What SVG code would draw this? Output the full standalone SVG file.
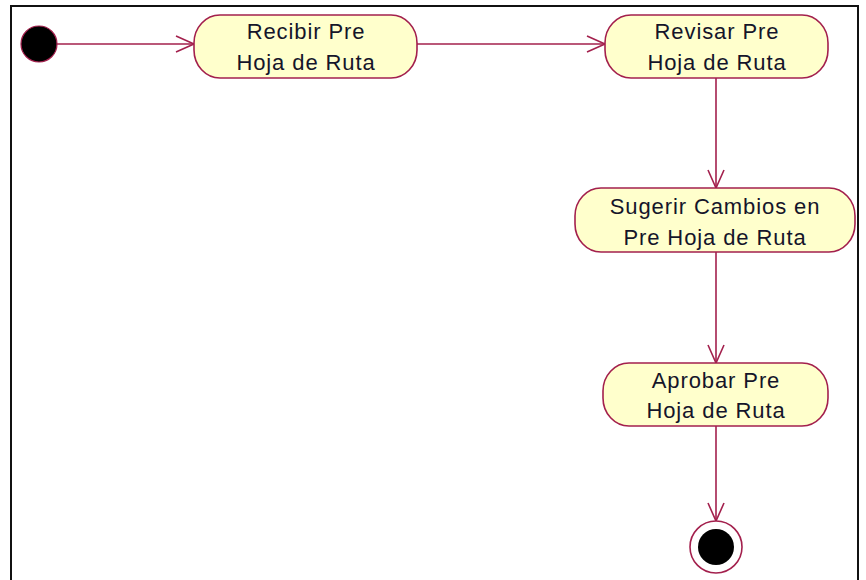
<svg xmlns="http://www.w3.org/2000/svg" width="866" height="580" viewBox="0 0 866 580">
<style>
.act{fill:#ffffcc;stroke:#a3204d;stroke-width:1.6}
.lbl{font-family:"Liberation Sans",Arial,sans-serif;font-size:22px;letter-spacing:0.9px;fill:#15152a;text-anchor:middle}
.edge{stroke:#a3204d;stroke-width:1.6;fill:none}
</style>
<defs>
<marker id="arr" markerUnits="userSpaceOnUse" markerWidth="22" markerHeight="22" viewBox="0 0 22 22" refX="19" refY="11" orient="auto">
<path d="M1,3 L19,11 L1,19" fill="none" stroke="#a3204d" stroke-width="1.6"/>
</marker>
</defs>
<rect width="866" height="580" fill="#ffffff"/>
<rect x="11" y="6" width="847" height="620" fill="none" stroke="#111" stroke-width="2"/>
<g id="connectors">
<line class="edge" x1="57" y1="44" x2="194" y2="44" marker-end="url(#arr)"/>
<line class="edge" x1="417" y1="44" x2="605" y2="44" marker-end="url(#arr)"/>
<line class="edge" x1="716" y1="78" x2="716" y2="188" marker-end="url(#arr)"/>
<line class="edge" x1="716" y1="252" x2="716" y2="363" marker-end="url(#arr)"/>
<line class="edge" x1="716" y1="426" x2="716" y2="521" marker-end="url(#arr)"/>
</g>
<g id="start">
<circle cx="39" cy="44" r="18" fill="#000" stroke="#a3204d" stroke-width="1.2"/>
</g>
<g id="recibir">
<rect class="act" x="194" y="15" width="223" height="63" rx="26" ry="28"/>
<text class="lbl" x="306" y="39">Recibir Pre</text>
<text class="lbl" x="306" y="70">Hoja de Ruta</text>
</g>
<g id="revisar">
<rect class="act" x="605" y="15" width="223" height="63" rx="26" ry="28"/>
<text class="lbl" x="717" y="39">Revisar Pre</text>
<text class="lbl" x="717" y="70">Hoja de Ruta</text>
</g>
<g id="sugerir">
<rect class="act" x="575" y="188" width="280" height="64" rx="26" ry="28"/>
<text class="lbl" x="715" y="214">Sugerir Cambios en</text>
<text class="lbl" x="715" y="245">Pre Hoja de Ruta</text>
</g>
<g id="aprobar">
<rect class="act" x="603" y="363" width="225" height="63" rx="26" ry="28"/>
<text class="lbl" x="716" y="388">Aprobar Pre</text>
<text class="lbl" x="716" y="418">Hoja de Ruta</text>
</g>
<g id="end">
<circle cx="716" cy="547" r="26" fill="#fff" stroke="#a3204d" stroke-width="1.6"/>
<circle cx="716" cy="547" r="18" fill="#000"/>
</g>
</svg>
